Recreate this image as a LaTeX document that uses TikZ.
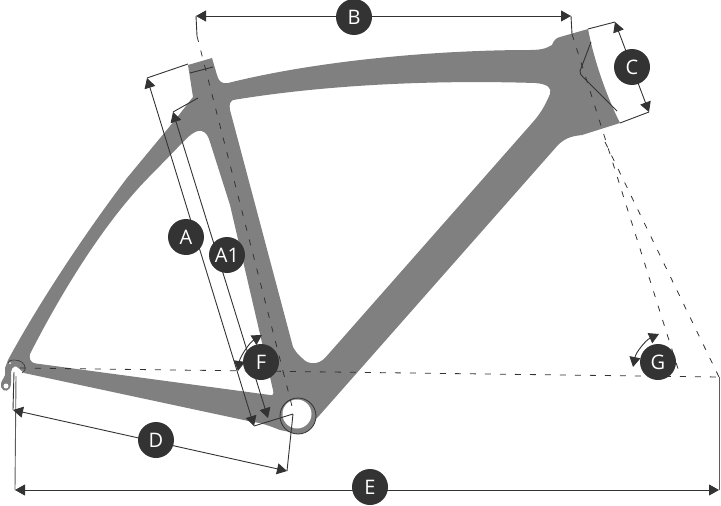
\documentclass[tikz,border=0pt]{standalone}
\usepackage{fontspec}
\setmainfont{Open Sans}
\usetikzlibrary{arrows.meta}
\definecolor{frame}{HTML}{808080}
\definecolor{ink}{HTML}{333333}
\tikzset{
  badge/.style={circle,fill=ink,text=white,minimum size=36pt,inner sep=0pt,font=\fontsize{20}{20}\selectfont},
  dim/.style={draw=ink,line width=0.9pt,{Triangle[length=10pt,width=11pt]}-{Triangle[length=10pt,width=11pt]}},
  tick/.style={draw=ink,line width=0.9pt},
  axis/.style={draw=ink,line width=0.8pt,dash pattern=on 6pt off 9pt}
}
\begin{document}
\begin{tikzpicture}[x=1pt,y=-1pt]
\useasboundingbox (0,0) rectangle (721,506);
% frame
\fill[frame,even odd rule]
  (188,65) -- (212,58) -- (217,75) .. controls (219,82) and (222,84) .. (228,83)
  .. controls (320,60) and (440,50) .. (530,50) .. controls (545,50) and (548,47) .. (552,45)
  .. controls (554,40) and (556,38) .. (560,37) -- (588,29)
  .. controls (594,60) and (606,95) .. (620,123) -- (582,135)
  .. controls (574,136) and (566,137) .. (558,145)
  -- (318,417) -- (300,434) -- (280,430) .. controls (270,426) and (262,423) .. (253,422)
  -- (24,373) -- (19,368.5) .. controls (16,365) and (12,366) .. (11,372) -- (11,383)
  .. controls (11,392) and (3,393) .. (1,387) .. controls (0,381) and (4,379) .. (5,375)
  -- (5,368) -- (8,360)
  .. controls (35,310) and (80,240) .. (127,178) -- (175,120) -- (193,97) -- cycle
  % main triangle
  (233,100) .. controls (330,84) and (440,80) .. (535,83) .. controls (548,84) and (552,88) .. (550,94)
  .. controls (545,106) and (540,114) .. (533,122)
  -- (325,358) .. controls (318,365) and (308,365) .. (302,358)
  .. controls (296,353) and (295,350) .. (293,347)
  -- (230,110) .. controls (229,104) and (230,102) .. (233,100) -- cycle
  % rear triangle
  (198,131) .. controls (203,130) and (207,133) .. (209,139)
  -- (230,205) -- (273,390) .. controls (274,394) and (273,396) .. (270,395)
  -- (36,363.5) .. controls (30,363) and (29,358) .. (30,354)
  .. controls (60,295) and (105,220) .. (153,173) -- (185,140) .. controls (190,135) and (194,132) .. (198,131) -- cycle;
% bottom bracket
\coordinate (bbc) at (298,416);
\fill[frame] (bbc) circle (18);
\fill[white] (297,414) circle (14.5);
\draw[ink,line width=0.8pt] (bbc) circle (18);
% dropout details
\fill[white] (6,386) circle (2.5);
\fill[white] (10,363) circle (1);
\draw[ink,line width=0.6pt] (8,363) .. controls (9,360) and (11,360) .. (14,360) .. controls (19,360) and (26,362) .. (25,370) -- (22,373);
% head tube line
\draw[ink,line width=0.9pt] (591,42) -- (580,71) .. controls (580,74) and (581,75) .. (583,77) -- (617,111);
% named points
\coordinate (seatTop) at (197,36);
\coordinate (seatVertex) at (283,371);
\coordinate (seatEnd) at (294,414);
\coordinate (headTop) at (572,34);
\coordinate (headEnd) at (680,375);
\coordinate (headBottom) at (605,142);
\coordinate (dropPoint) at (20,368);
\coordinate (rightPoint) at (719,377);
\coordinate (bL) at (196,16);
\coordinate (bR) at (571,16);
\coordinate (cT) at (615,22);
\coordinate (cB) at (649,112);
\coordinate (cTs) at (588,29);
\coordinate (cBs) at (620,123);
\coordinate (aT) at (147,78);
\coordinate (aB) at (254,426);
\coordinate (aTs) at (188,64);
\coordinate (a1T) at (173,112);
\coordinate (a1B) at (268,418);
\coordinate (a1Ts) at (198,98);
\coordinate (tickA) at (190,73);
\coordinate (tickB) at (213,67);
\coordinate (dL) at (13,410);
\coordinate (dR) at (287,471);
\coordinate (dLs) at (14,372);
\coordinate (dRs) at (293,414);
\coordinate (eL) at (15,490);
\coordinate (eR) at (719,490);
\coordinate (eLs) at (16,376);
\coordinate (fA) at (238,371);
\coordinate (fB) at (262,335);
\coordinate (gA) at (633,367);
\coordinate (gB) at (659,334);
% dashed guides
\draw[axis] (seatTop) -- (seatVertex);
\draw[axis] (seatVertex) -- (seatEnd);
\draw[axis] (headTop) -- (headEnd);
\draw[axis] (headBottom) -- (rightPoint);
\draw[axis] (dropPoint) -- (rightPoint);
% witness lines
\draw[tick] (bL) -- (seatTop);
\draw[tick] (bR) -- (headTop);
\draw[tick] (cTs) -- (cT);
\draw[tick] (cBs) -- (cB);
\draw[tick] (aTs) -- (aT);
\draw[tick] (a1Ts) -- (a1T);
\draw[tick] (tickA) -- (tickB);
\draw[tick] (aB) -- (dRs);
\draw[tick] (dRs) -- (dR);
\draw[tick] (dLs) -- (dL);
\draw[tick,draw=ink!80] (eLs) -- (eL);
\draw[tick,draw=ink!80] (rightPoint) -- (eR);
% dimensions
\draw[dim] (bL) -- (bR);
\draw[dim] (cT) -- (cB);
\draw[dim] (aT) -- (aB);
\draw[dim] (a1T) -- (a1B);
\draw[dim] (dL) -- (dR);
\draw[dim] (eL) -- (eR);
\draw[dim] (fA) .. controls (240,357) and (249,343) .. (fB);
\draw[dim] (gA) .. controls (636,352) and (646,340) .. (gB);
% badges
\node[badge] (B) at (354,17) {B};
\node[badge] (C) at (632,67) {C};
\node[badge] (A) at (186,237) {A};
\node[badge] (A1) at (227,255) {A1};
\node[badge] (F) at (261,362) {F};
\node[badge] (G) at (658,362) {G};
\node[badge] (D) at (156,440) {D};
\node[badge] (E) at (370,487) {E};
\end{tikzpicture}
\end{document}
